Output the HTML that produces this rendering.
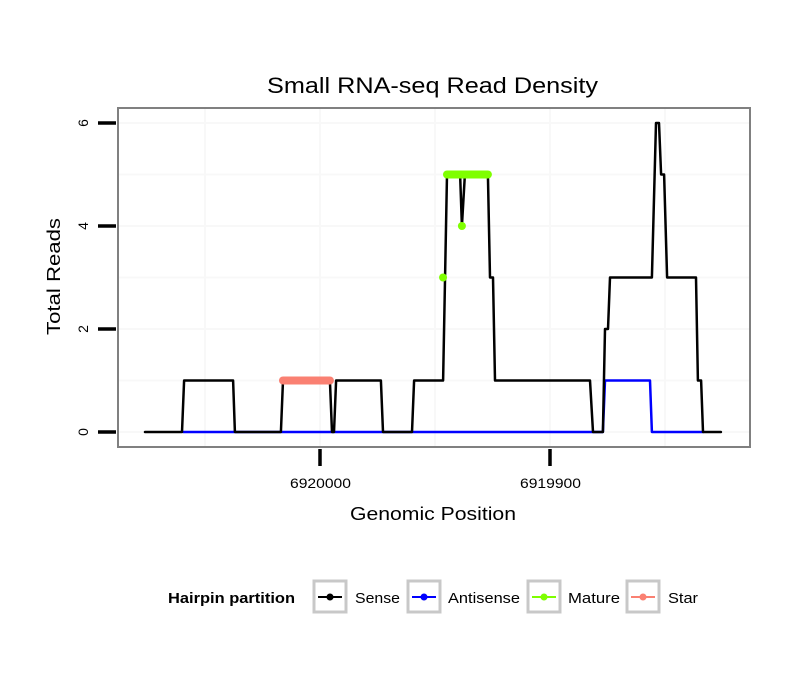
<!DOCTYPE html>
<html><head><meta charset="utf-8"><style>
body{margin:0;background:#fff;}
svg{font-family:"Liberation Sans",sans-serif;display:block}
</style></head><body>
<svg id="chart" width="810" height="690" xmlns="http://www.w3.org/2000/svg">
<rect x="0" y="0" width="810" height="690" fill="#fff"/>
<text x="267" y="93" font-size="22" textLength="331" lengthAdjust="spacingAndGlyphs">Small RNA-seq Read Density</text>
<g id="grid"></g>
<g id="marks"></g>
<rect x="118" y="108" width="632" height="339" fill="none" stroke="#808080" stroke-width="2"/>
<g id="axes"></g>
<text x="350" y="520" font-size="18" textLength="166" lengthAdjust="spacingAndGlyphs">Genomic Position</text>
<text transform="translate(60,335) rotate(-90)" font-size="18" textLength="117" lengthAdjust="spacingAndGlyphs">Total Reads</text>
<g>
<text x="168" y="603" font-size="15" font-weight="bold" textLength="127" lengthAdjust="spacingAndGlyphs">Hairpin partition</text>
<g><rect x="314" y="581" width="32" height="31" fill="#fff" stroke="#c8c8c8" stroke-width="3"/><line x1="318" y1="597" x2="342" y2="597" stroke="#000" stroke-width="2"/><circle cx="330" cy="597" r="3.5" fill="#000"/><text x="355" y="603" font-size="15" textLength="45" lengthAdjust="spacingAndGlyphs">Sense</text></g>
<g><rect x="408" y="581" width="32" height="31" fill="#fff" stroke="#c8c8c8" stroke-width="3"/><line x1="412" y1="597" x2="436" y2="597" stroke="#0000ff" stroke-width="2"/><circle cx="424" cy="597" r="3.5" fill="#0000ff"/><text x="448" y="603" font-size="15" textLength="72" lengthAdjust="spacingAndGlyphs">Antisense</text></g>
<g><rect x="528" y="581" width="32" height="31" fill="#fff" stroke="#c8c8c8" stroke-width="3"/><line x1="532" y1="597" x2="556" y2="597" stroke="#7fff00" stroke-width="2"/><circle cx="544" cy="597" r="3.5" fill="#7fff00"/><text x="568" y="603" font-size="15" textLength="52" lengthAdjust="spacingAndGlyphs">Mature</text></g>
<g><rect x="627" y="581" width="32" height="31" fill="#fff" stroke="#c8c8c8" stroke-width="3"/><line x1="631" y1="597" x2="655" y2="597" stroke="#fa8072" stroke-width="2"/><circle cx="643" cy="597" r="3.5" fill="#fa8072"/><text x="668" y="603" font-size="15" textLength="30" lengthAdjust="spacingAndGlyphs">Star</text></g>
</g>
</svg>
<script>
const xTicks = [6920000, 6919900];
const xTickLabels = ["6920000", "6919900"];
const xMinor = [6920050, 6919950, 6919850];
const yTicks = [0, 2, 4, 6];
const yMinor = [1, 3, 5];
const senseX = [6920076.1,6920060.0,6920059.1,6920037.8,6920037.0,6920017.0,6920016.1,6919995.7,6919994.8,6919993.9,6919993.0,6919973.5,6919972.6,6919960.0,6919959.1,6919946.5,6919944.8,6919939.1,6919938.3,6919937.0,6919927.0,6919926.1,6919924.8,6919923.9,6919882.6,6919881.3,6919877.0,6919876.1,6919874.8,6919873.9,6919855.7,6919853.9,6919852.6,6919851.7,6919850.4,6919849.1,6919836.5,6919835.7,6919834.3,6919833.5,6919825.7];
const senseY = [0,0,1,1,0,0,1,1,0,0,1,1,0,0,1,1,5,5,4,5,5,3,3,1,1,0,0,2,2,3,3,6,6,5,5,3,3,1,1,0,0];
const antiX = [6920059.5,6919877.0,6919876.1,6919856.5,6919855.7,6919833.5];
const antiY = [0,0,1,1,0,0];
const matureLineX = [6919944.8,6919927.0];
const matureLineY = [5,5];
const maturePtX = [6919946.5,6919938.3];
const maturePtY = [3,4];
const starX = [6920016.1,6919995.7];
const starY = [1,1];

const NS="http://www.w3.org/2000/svg";
const xs = v => 320 + (6920000 - v) * 2.3;
const ys = v => 432 - v * 51.5;
function mk(tag, attrs, parent){const e=document.createElementNS(NS,tag);for(const k in attrs)e.setAttribute(k,attrs[k]);parent.appendChild(e);return e;}
const grid=document.getElementById('grid'), marks=document.getElementById('marks'), axes=document.getElementById('axes');
yMinor.concat(yTicks).forEach(v=>{const l=mk('line',{x1:118,x2:750,y1:ys(v),y2:ys(v),stroke:'#f8f8f8','stroke-width':2},grid);

});
xMinor.concat(xTicks).forEach(v=>{const l=mk('line',{x1:xs(v),x2:xs(v),y1:108,y2:447,stroke:'#f8f8f8','stroke-width':2},grid);

});
function path(X,Y,color,w,name){const d=X.map((x,i)=>(i?'L':'M')+xs(x).toFixed(1)+','+ys(Y[i]).toFixed(1)).join('');
const p=mk('path',{d:d,fill:'none',stroke:color,'stroke-width':w,'stroke-linejoin':'round','stroke-linecap':'round'},marks);

}
path(antiX,antiY,'#0000ff',2.5,'antisense-line');
path(senseX,senseY,'#000',2.5,'sense-line');
path(starX,starY,'#fa8072',8,'star-segment');
path(matureLineX,matureLineY,'#7fff00',8,'mature-segment');
maturePtX.forEach((x,i)=>{const c=mk('circle',{cx:xs(x),cy:ys(maturePtY[i]),r:4,fill:'#7fff00'},marks);

});
yTicks.forEach(v=>{const t=mk('line',{x1:98,x2:116,y1:ys(v),y2:ys(v),stroke:'#000','stroke-width':3.5},axes);


const tx=mk('text',{transform:`translate(88,${ys(v)}) rotate(-90)`,'font-size':14,'text-anchor':'middle'},axes);tx.textContent=v;

});
xTicks.forEach((v,i)=>{const t=mk('line',{x1:xs(v),x2:xs(v),y1:449,y2:466,stroke:'#000','stroke-width':3.5},axes);


const tx=mk('text',{x:xs(v)-30,y:488,'font-size':14,textLength:61,lengthAdjust:'spacingAndGlyphs'},axes);tx.textContent=xTickLabels[i];

});
</script>
</body></html>
